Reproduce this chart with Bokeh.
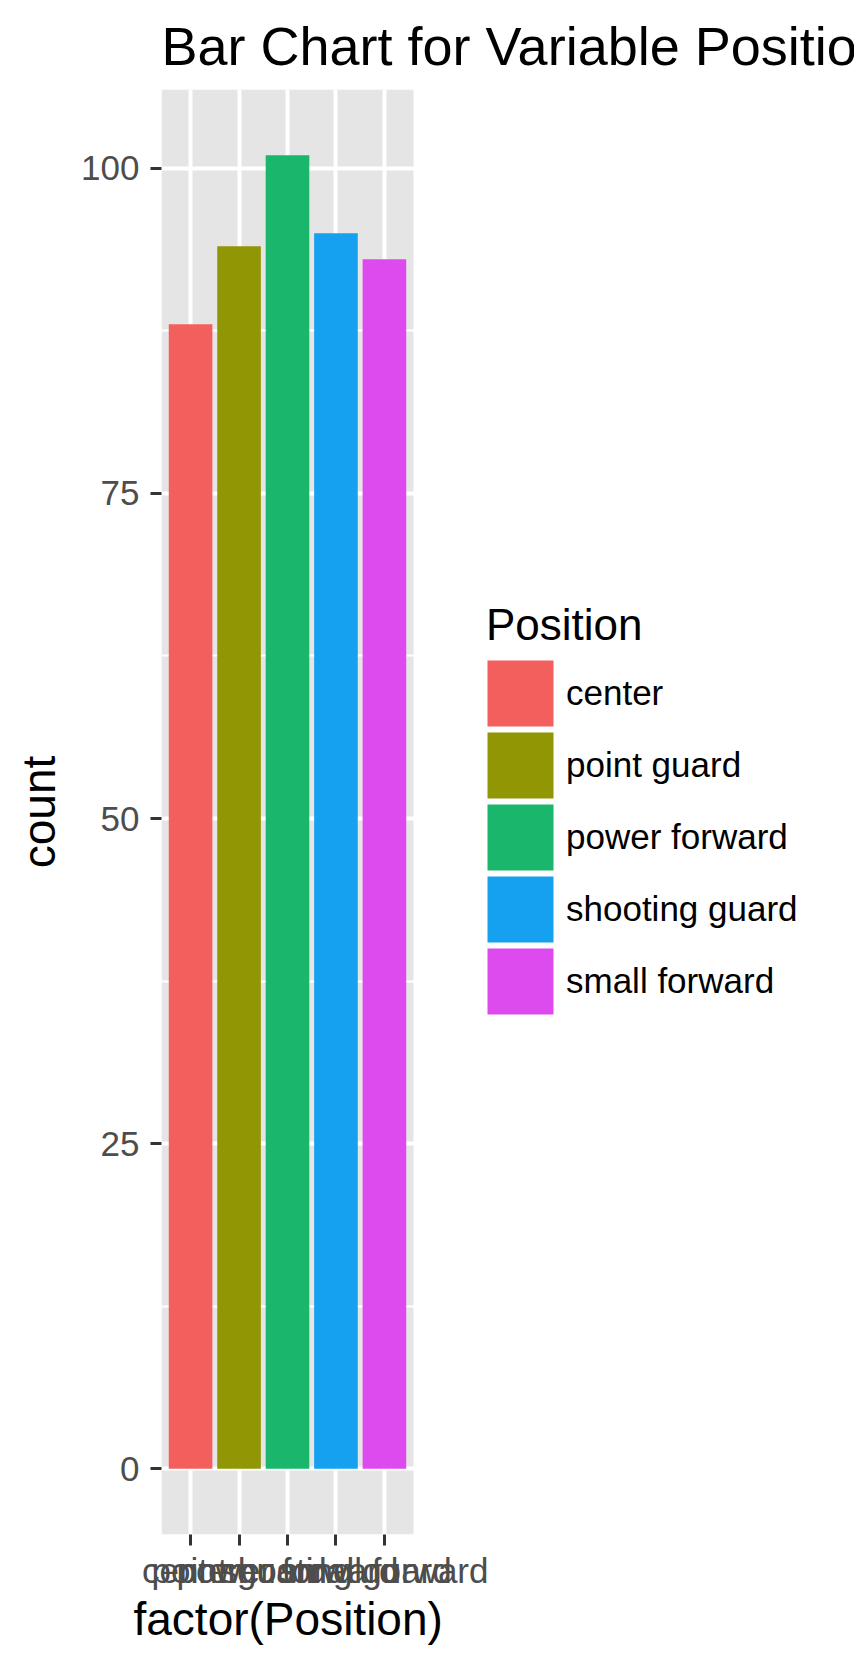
from bokeh.plotting import figure
from bokeh.models import ColumnDataSource, Range1d, FixedTicker, Legend, LegendItem, Title
from bokeh.embed import file_html
from bokeh.resources import INLINE

# ---- data ----
positions = ["center", "point guard", "power forward", "shooting guard", "small forward"]
counts = [88, 94, 101, 95, 93]
palette = ["#F35F5C", "#919605", "#19B66C", "#15A0F0", "#DD4BEF"]
y_ticks = [0, 25, 50, 75, 100]
y_minor = [12.5, 37.5, 62.5, 87.5]

FONT = "Liberation Sans"
x_idx = list(range(1, len(positions) + 1))
src = ColumnDataSource(dict(x=x_idx, count=counts, Position=positions, color=palette))

# layout (pixels)
W, H = 854, 1670
LEFT, TOP, BOTTOM = 161, 89, 136
PANEL_W = 252            # width of the grey panel
FRAME_W = W - LEFT       # plot frame runs to the right edge so the legend is not clipped

x0, x1 = 0.4, len(positions) + 0.6          # ggplot discrete expansion
x_end = x0 + (x1 - x0) * FRAME_W / PANEL_W
ymax = max(counts)
pad = ymax * 0.05

p = figure(width=W, height=H, output_backend="svg", toolbar_location=None,
           x_range=Range1d(x0, x_end), y_range=Range1d(-pad, ymax + pad),
           min_border_left=LEFT, min_border_right=0, min_border_top=TOP, min_border_bottom=BOTTOM,
           title="Bar Chart for Variable Position")

p.background_fill_color = "white"
p.border_fill_color = "white"
p.outline_line_color = None

# title
p.title.text_font = FONT
p.title.text_font_size = "54px"
p.title.text_font_style = "normal"
p.title.text_color = "black"
p.title.align = "left"
p.title.standoff = 27

# grey panel background
p.quad(left=[x0], right=[x1], bottom=[-pad], top=[ymax + pad],
       fill_color="#E5E5E5", line_color=None, level="image")

bars = p.vbar(x="x", top="count", bottom=0, width=0.9, source=src,
              fill_color="color", line_color=None)

# grids
p.xgrid.ticker = FixedTicker(ticks=x_idx)
p.xgrid.grid_line_color = "white"
p.xgrid.grid_line_width = 4
p.ygrid.ticker = FixedTicker(ticks=y_ticks, minor_ticks=y_minor)
p.ygrid.grid_line_color = "white"
p.ygrid.grid_line_width = 4
p.ygrid.minor_grid_line_color = "white"
p.ygrid.minor_grid_line_width = 2

# axes
for ax in (p.xaxis[0], p.yaxis[0]):
    ax.axis_line_color = None
    ax.major_tick_line_color = "#333333"
    ax.major_tick_line_width = 3
    ax.major_tick_out = 11
    ax.major_tick_in = 0
    ax.minor_tick_line_color = None
    ax.major_label_text_font = FONT
    ax.major_label_text_font_size = "35px"
    ax.major_label_text_color = "#4D4D4D"
    ax.axis_label_text_font = FONT
    ax.axis_label_text_font_size = "46px"
    ax.axis_label_text_font_style = "normal"
    ax.axis_label_text_color = "black"

p.xaxis[0].ticker = FixedTicker(ticks=x_idx)
p.xaxis[0].major_label_overrides = {i: name for i, name in zip(x_idx, positions)}
p.xaxis[0].major_label_standoff = 5

p.yaxis[0].ticker = FixedTicker(ticks=y_ticks)
p.yaxis[0].major_label_standoff = 11
p.yaxis[0].axis_label = "count"
p.yaxis[0].axis_label_standoff = 13

# x axis title, centred under the grey panel (the frame itself is wider)
p.add_layout(Title(text="factor(Position)", align="left", offset=-28, standoff=-4,
                   text_font=FONT, text_font_size="46px", text_font_style="normal",
                   text_color="black"), "below")

# legend keys: square markers of the same colours (renderer itself hidden)
keys = p.scatter(x="x", y="count", source=src, marker="square", size=10,
                 fill_color="color", line_color="color", line_width=38.8, line_join="miter")
keys.visible = False

items = [LegendItem(label=name, renderers=[keys], index=i) for i, name in enumerate(positions)]
legend = Legend(items=items, location=(486 - LEFT, 517), title="Position",
                title_text_font=FONT, title_text_font_size="44px", title_text_color="black",
                title_text_font_style="normal", title_standoff=7,
                label_text_font=FONT, label_text_font_size="35px", label_text_color="black",
                glyph_width=68, glyph_height=72, spacing=0, label_standoff=12,
                padding=0, margin=0, border_line_color=None, background_fill_alpha=0,
                inactive_fill_alpha=0)
p.add_layout(legend, "center")

open("out.html", "w").write(file_html(p, INLINE))
